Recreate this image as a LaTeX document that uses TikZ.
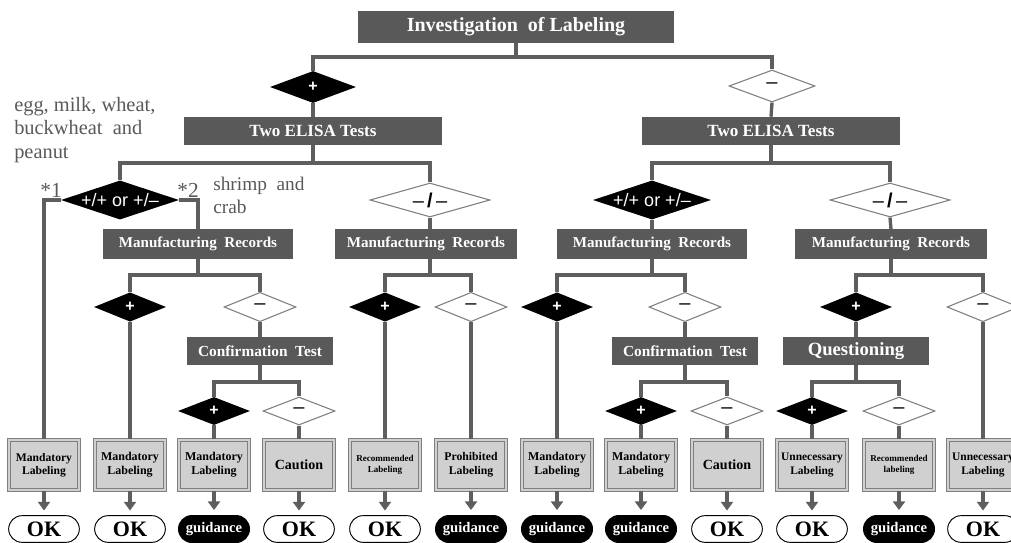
\documentclass[tikz,border=0pt]{standalone}
\usepackage{fontspec}
\setmainfont{Liberation Serif}
\newfontfamily\arialfont{Liberation Sans}
\usetikzlibrary{shapes.geometric, shapes.misc, arrows.meta}

\definecolor{boxgray}{HTML}{595959}
\definecolor{linegray}{HTML}{5E5E5E}
\definecolor{labelgray}{HTML}{D0D0D0}
\definecolor{framegray}{HTML}{7F7F7F}
\definecolor{notegray}{HTML}{595959}

\begin{document}
\begin{tikzpicture}[x = 0.75pt, y = -0.75pt,
 darkbox/.style = {rectangle, fill=boxgray, text=white, inner sep=0pt, minimum height=21pt},
 posdia/.style = {diamond, aspect=3, fill=black, text=white, inner sep=0pt, minimum width=54pt, minimum height=22pt, font=\arialfont\bfseries\fontsize{12}{12}\selectfont},
 negdia/.style = {diamond, aspect=3, draw=framegray, line width=0.8pt, fill=white, inner sep=0pt, minimum width=54pt, minimum height=22pt, font=\arialfont\fontsize{15}{15}\selectfont},
 labelbox/.style = {rectangle, fill=labelgray, draw=framegray, double=labelgray, double distance=1.6pt, line width=0.8pt, minimum width=53pt, minimum height=38pt, inner sep=1pt, align=center},
 okoval/.style = {rounded rectangle, draw=black, line width=0.7pt, fill=white, minimum width=53pt, minimum height=20pt, inner sep=0pt, font=\bfseries\fontsize{16.5}{16.5}\selectfont},
 guideoval/.style = {rounded rectangle, fill=black, text=white, minimum width=54pt, minimum height=21pt, inner sep=0pt, font=\bfseries\fontsize{11}{11}\selectfont},
 conn/.style = {draw=linegray, line width=2.5pt},
 arr/.style = {draw=linegray, line width=2.5pt, -{Triangle[length=6.5pt, width=9pt]}, shorten >=3.5pt}
]
\useasboundingbox (0,0) rectangle (1011,543);
\clip (0,0) rectangle (1011,543);

% 上段
\node[darkbox, minimum width=237pt, minimum height=24pt, font=\bfseries\fontsize{15}{15}\selectfont] (inv) at (516,27) {Investigation\ \ of Labeling};
\node[posdia, minimum width=64.5pt, minimum height=24pt] (dP) at (313,87) {+};
\node[negdia, minimum width=64.5pt, minimum height=24pt] (dM) at (772,86) {–};
\node[darkbox, minimum width=193pt, font=\bfseries\fontsize{12.8}{12.8}\selectfont] (elisaL) at (313,131) {Two ELISA Tests};
\node[darkbox, minimum width=193pt, font=\bfseries\fontsize{12.8}{12.8}\selectfont] (elisaR) at (771,131) {Two ELISA Tests};

% ELISAの判定
\node[posdia, minimum width=88.5pt, minimum height=25.5pt, font=\arialfont\fontsize{13.5}{13.5}\selectfont] (ppL) at (120,200) {+/+ or +/–};
\node[negdia, minimum width=90pt, minimum height=25.5pt, font=\arialfont\fontsize{15}{15}\selectfont] (mmL) at (430,200) {–\,\textbf{/}\,–};
\node[posdia, minimum width=88.5pt, minimum height=25.5pt, font=\arialfont\fontsize{13.5}{13.5}\selectfont] (ppR) at (652,200) {+/+ or +/–};
\node[negdia, minimum width=90pt, minimum height=25.5pt, font=\arialfont\fontsize{15}{15}\selectfont] (mmR) at (890,200) {–\,\textbf{/}\,–};

\node[darkbox, minimum width=142.5pt, minimum height=22pt, font=\bfseries\fontsize{11.3}{11.3}\selectfont] (mrA) at (198,244) {Manufacturing\ \ Records};
\node[darkbox, minimum width=136.5pt, minimum height=22pt, font=\bfseries\fontsize{11.3}{11.3}\selectfont] (mrB) at (426,244) {Manufacturing\ \ Records};
\node[darkbox, minimum width=143pt, minimum height=22pt, font=\bfseries\fontsize{11.3}{11.3}\selectfont] (mrC) at (652,244) {Manufacturing\ \ Records};
\node[darkbox, minimum width=144pt, minimum height=22pt, font=\bfseries\fontsize{11.3}{11.3}\selectfont] (mrD) at (891,244) {Manufacturing\ \ Records};

% 製造記録の判定
\node[posdia] (dA) at (130,307) {+};
\node[negdia] (dB) at (260,307) {–};
\node[posdia] (dC) at (385,307) {+};
\node[negdia] (dD) at (471,307) {–};
\node[posdia] (dE) at (557,307) {+};
\node[negdia] (dF) at (685,307) {–};
\node[posdia] (dG) at (856,307) {+};
\node[negdia] (dH) at (983,307) {–};

\node[darkbox, minimum width=110pt, font=\bfseries\fontsize{11.5}{11.5}\selectfont] (confA) at (260,351) {Confirmation\ \ Test};
\node[darkbox, minimum width=109pt, font=\bfseries\fontsize{11.5}{11.5}\selectfont] (confB) at (685,351) {Confirmation\ \ Test};
\node[darkbox, minimum width=110pt, font=\bfseries\fontsize{14}{14}\selectfont] (ques) at (856,351) {Questioning};

\node[posdia, minimum height=21pt] (eA) at (214,411) {+};
\node[negdia, minimum height=21pt] (eB) at (299,411) {–};
\node[posdia, minimum height=21pt] (eC) at (641,411) {+};
\node[negdia, minimum height=21pt] (eD) at (727,411) {–};
\node[posdia, minimum height=21pt] (eE) at (812,411) {+};
\node[negdia, minimum height=21pt] (eF) at (899,411) {–};

% 表示の判定
\node[labelbox, font=\bfseries\fontsize{8.7}{10}\selectfont] (b1) at (44,465) {Mandatory\\Labeling};
\node[labelbox, font=\bfseries\fontsize{9}{10.5}\selectfont] (b2) at (130,465) {Mandatory\\Labeling};
\node[labelbox, font=\bfseries\fontsize{9}{10.5}\selectfont] (b3) at (214,465) {Mandatory\\Labeling};
\node[labelbox, font=\bfseries\fontsize{10.5}{10.5}\selectfont] (b4) at (299,465) {Caution};
\node[labelbox, font=\bfseries\fontsize{6.8}{8.3}\selectfont] (b5) at (385,465) {Recommended\\Labeling};
\node[labelbox, font=\bfseries\fontsize{8.8}{10.5}\selectfont] (b6) at (471,465) {Prohibited\\Labeling};
\node[labelbox, font=\bfseries\fontsize{9}{10.5}\selectfont] (b7) at (557,465) {Mandatory\\Labeling};
\node[labelbox, font=\bfseries\fontsize{9}{10.5}\selectfont] (b8) at (641,465) {Mandatory\\Labeling};
\node[labelbox, font=\bfseries\fontsize{10.5}{10.5}\selectfont] (b9) at (727,465) {Caution};
\node[labelbox, font=\bfseries\fontsize{8.6}{10.5}\selectfont] (b10) at (812,465) {Unnecessary\\Labeling};
\node[labelbox, font=\bfseries\fontsize{6.8}{8.3}\selectfont] (b11) at (899,465) {Recommended\\labeling};
\node[labelbox, font=\bfseries\fontsize{8.6}{10.5}\selectfont] (b12) at (983,465) {Unnecessary\\Labeling};

\node[okoval] (o1) at (44,529) {OK};
\node[okoval] (o2) at (130,529) {OK};
\node[guideoval] (o3) at (214,529) {guidance};
\node[okoval] (o4) at (299,529) {OK};
\node[okoval] (o5) at (385,529) {OK};
\node[guideoval] (o6) at (471,529) {guidance};
\node[guideoval] (o7) at (557,529) {guidance};
\node[guideoval] (o8) at (641,529) {guidance};
\node[okoval] (o9) at (727,529) {OK};
\node[okoval] (o10) at (812,529) {OK};
\node[guideoval] (o11) at (899,529) {guidance};
\node[okoval] (o12) at (983,529) {OK};

% 注記
\node[anchor=north west, inner sep=0pt, align=left, text=notegray, font=\fontsize{15.3}{17.6}\selectfont] (allergen) at (14,97) {egg, milk, wheat,\\buckwheat\ \ and\\peanut};
\node[anchor=base east, inner sep=0pt, text=notegray, font=\fontsize{16}{16}\selectfont] (n1) at (62,197) {*1};
\node[anchor=base east, inner sep=0pt, text=notegray, font=\fontsize{16}{16}\selectfont] (n2) at (199,197) {*2};
\node[anchor=north west, inner sep=0pt, align=left, text=notegray, font=\fontsize{14.5}{17.3}\selectfont] (crust) at (213,177) {shrimp\ \ and\\crab};

% 分岐の線
\coordinate (j0) at (516,57);
\coordinate (j1) at (313,163);
\coordinate (j2) at (771,163);
\coordinate (j3) at (198,275);
\coordinate (j4) at (430,275);
\coordinate (j5) at (652,275);
\coordinate (j6) at (891,275);
\coordinate (j7) at (260,382);
\coordinate (j8) at (685,382);
\coordinate (j9) at (856,382);

\draw[conn] (inv.south) -- (j0);
\draw[conn] (dP.north) |- (j0) -| (dM.north);
\draw[conn] (dP.south) -- (elisaL.north);
\draw[conn] (dM.south) -- (elisaR.north);
\draw[conn] (elisaL.south) -- (j1);
\draw[conn] (ppL.north) |- (j1) -| (mmL.north);
\draw[conn] (elisaR.south) -- (j2);
\draw[conn] (ppR.north) |- (j2) -| (mmR.north);
\draw[conn] (ppL.west) -| (b1.north);
\draw[conn] (ppL.east) -| (mrA.north);
\draw[conn] (mmL.south) -- (mmL.south |- mrB.north);
\draw[conn] (ppR.south) -- (mrC.north);
\draw[conn] (mmR.south) -- (mrD.north);
\draw[conn] (mrA.south) -- (j3);
\draw[conn] (dA.north) |- (j3) -| (dB.north);
\draw[conn] (mrB.south -| j4) -- (j4);
\draw[conn] (dC.north) |- (j4) -| (dD.north);
\draw[conn] (mrC.south) -- (j5);
\draw[conn] (dE.north) |- (j5) -| (dF.north);
\draw[conn] (mrD.south) -- (j6);
\draw[conn] (dG.north) |- (j6) -| (dH.north);
\draw[conn] (dA.south) -- (b2.north);
\draw[conn] (dB.south) -- (confA.north);
\draw[conn] (dC.south) -- (b5.north);
\draw[conn] (dD.south) -- (b6.north);
\draw[conn] (dE.south) -- (b7.north);
\draw[conn] (dF.south) -- (confB.north);
\draw[conn] (dG.south) -- (ques.north);
\draw[conn] (dH.south) -- (b12.north);
\draw[conn] (confA.south) -- (j7);
\draw[conn] (eA.north) |- (j7) -| (eB.north);
\draw[conn] (confB.south) -- (j8);
\draw[conn] (eC.north) |- (j8) -| (eD.north);
\draw[conn] (ques.south) -- (j9);
\draw[conn] (eE.north) |- (j9) -| (eF.north);
\foreach \d/\b in {eA/b3, eB/b4, eC/b8, eD/b9, eE/b10, eF/b11}
 \draw[conn] (\d.south) -- (\b.north);
\foreach \i in {1,...,12}
 \draw[arr] (b\i.south) -- (o\i.north);
\end{tikzpicture}
\end{document}
